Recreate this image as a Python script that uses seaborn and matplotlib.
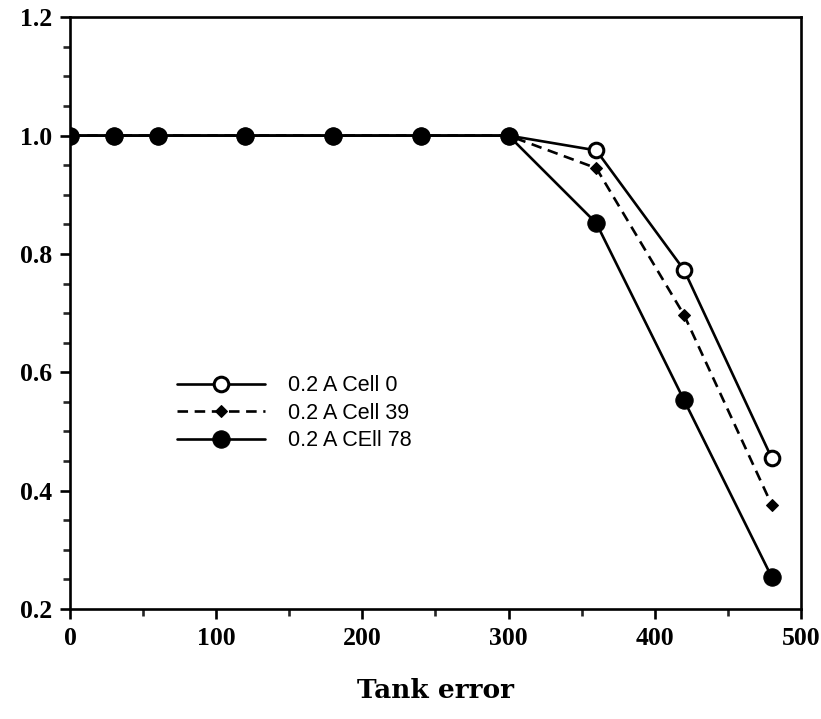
import matplotlib
matplotlib.use("Agg")
import matplotlib.pyplot as plt
from matplotlib.ticker import MultipleLocator
import seaborn as sns
import pandas as pd

tank_error = [0, 30, 60, 120, 180, 240, 300, 360, 420, 480]
cell0 = [1.0, 1.0, 1.0, 1.0, 1.0, 1.0, 1.0, 0.975, 0.773, 0.455]
cell39 = [1.0, 1.0, 1.0, 1.0, 1.0, 1.0, 1.0, 0.945, 0.697, 0.376]
cell78 = [1.0, 1.0, 1.0, 1.0, 1.0, 1.0, 1.0, 0.852, 0.553, 0.254]
labels = ["0.2 A Cell 0", "0.2 A Cell 39", "0.2 A CEll 78"]

sns.set_style("ticks")
plt.rcParams["font.family"] = ["DejaVu Sans"]
plt.rcParams["text.color"] = "black"

fig = plt.figure(figsize=(8.21, 7.19), dpi=100)
ax = fig.add_axes([0.0853, 0.153, 0.8903, 0.823])

df0 = pd.DataFrame({"x": tank_error, "y": cell0})
df39 = pd.DataFrame({"x": tank_error, "y": cell39})
df78 = pd.DataFrame({"x": tank_error, "y": cell78})

sns.lineplot(data=df0, x="x", y="y", ax=ax, color="black", lw=1.9,
             marker="o", markersize=10.5, markerfacecolor="white",
             markeredgecolor="black", markeredgewidth=2.2, label=labels[0])
sns.lineplot(data=df39, x="x", y="y", ax=ax, color="black", lw=1.9,
             linestyle=(0, (4, 2.5)), marker="D", markersize=6.5,
             markerfacecolor="black", markeredgecolor="black", label=labels[1])
sns.lineplot(data=df78, x="x", y="y", ax=ax, color="black", lw=1.9,
             marker="o", markersize=12.5, markerfacecolor="black",
             markeredgecolor="black", label=labels[2])

ax.set_xlim(0, 500)
ax.set_ylim(0.2, 1.2)
ax.xaxis.set_major_locator(MultipleLocator(100))
ax.xaxis.set_minor_locator(MultipleLocator(50))
ax.yaxis.set_major_locator(MultipleLocator(0.2))
ax.yaxis.set_minor_locator(MultipleLocator(0.05))
ax.set_yticks([0.2, 0.4, 0.6, 0.8, 1.0, 1.2])
ax.set_yticklabels(["0.2", "0.4", "0.6", "0.8", "1.0", "1.2"])

for sp in ax.spines.values():
    sp.set_linewidth(1.9)
    sp.set_color("black")
    sp.set_visible(True)

ax.tick_params(axis="both", which="major", direction="out", length=7, width=1.9,
               labelsize=18.5, pad=6, colors="black")
ax.tick_params(axis="both", which="minor", direction="out", length=5, width=1.9)
for lab in ax.get_xticklabels() + ax.get_yticklabels():
    lab.set_fontfamily("Liberation Serif")
    lab.set_fontweight("bold")

ax.set_xlabel("Tank error", fontsize=19, fontweight="bold", color="black",
              family="DejaVu Serif", labelpad=20)
ax.set_ylabel("")

leg = ax.legend(loc="center left", bbox_to_anchor=(0.146, 0.331), frameon=False,
                fontsize=15.5, handlelength=4.1, handletextpad=1.05,
                labelspacing=0.3, borderaxespad=0, borderpad=0)
for t in leg.get_texts():
    t.set_fontfamily("Liberation Sans")
    t.set_color("black")

fig.savefig("out.png", dpi=100)
